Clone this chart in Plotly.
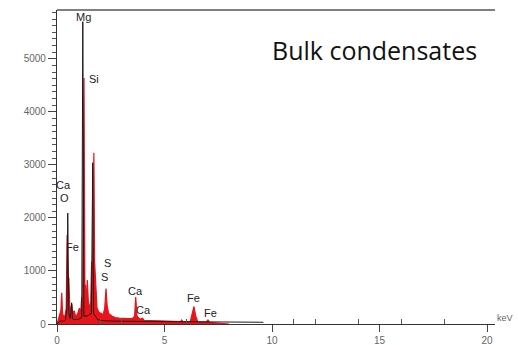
import plotly.graph_objects as go

# ---- data ----
red_kev = [0.00, 0.05, 0.12, 0.18, 0.22, 0.26, 0.32, 0.38, 0.43, 0.47, 0.51, 0.55, 0.60,
           0.65, 0.69, 0.73, 0.80, 0.86, 0.95, 1.04, 1.10, 1.15, 1.19, 1.235, 1.255, 1.30,
           1.33, 1.37, 1.41, 1.46, 1.52, 1.57, 1.61, 1.66, 1.70, 1.715, 1.75, 1.80, 1.86,
           1.95, 2.05, 2.15, 2.22, 2.28, 2.33, 2.40, 2.55, 2.70, 2.90, 3.10, 3.30, 3.50,
           3.61, 3.66, 3.72, 3.85, 3.98, 4.05, 4.50, 5.00, 5.50, 5.75, 5.80, 5.86, 6.20,
           6.30, 6.37, 6.45, 6.55, 6.95, 7.02, 7.10, 7.60, 8.00]
red_cts = [0, 60, 150, 250, 590, 200, 130, 170, 300, 1680, 600, 870, 250,
           300, 380, 200, 250, 150, 180, 300, 200, 510, 300, 4640, 4640, 400,
           740, 300, 830, 400, 300, 450, 1170, 1150, 3230, 3230, 1170, 600, 300,
           220, 200, 180, 300, 670, 350, 200, 150, 120, 110, 100, 100, 100,
           150, 510, 150, 90, 110, 70, 60, 50, 40, 45, 75, 40, 50,
           200, 330, 150, 40, 40, 75, 30, 15, 0]

blk_kev = [0.00, 0.10, 0.20, 0.30, 0.40, 0.46, 0.50, 0.55, 0.62, 0.68, 0.72, 0.80,
           1.00, 1.15, 1.20, 1.25, 1.40, 1.60, 1.66, 1.70, 1.90, 2.20, 2.60, 3.00,
           4.00, 5.00, 6.00, 7.00, 8.00, 9.00, 9.60]
blk_cts = [0, 40, 60, 50, 80, 300, 2090, 200, 100, 400, 100, 80,
           90, 120, 5700, 150, 150, 200, 3040, 200, 80, 60, 55, 50,
           48, 45, 42, 40, 38, 35, 33]

peak_labels = ["Mg", "Si", "Ca", "O", "Fe", "S", "S", "Ca", "Ca", "Fe", "Fe"]
label_kev = [1.21, 1.70, 0.29, 0.37, 0.70, 2.37, 2.23, 3.67, 4.00, 6.37, 7.12]
label_cts = [5790, 4620, 2620, 2375, 1452, 1150, 886, 622, 264, 490, 207]

y_ticks = [0, 1000, 2000, 3000, 4000, 5000]
x_ticks = [0, 5, 10, 15, 20]
x_minor = [2, 3, 6, 11, 12, 14, 16, 18]

X_MAX = 20.37
Y_MAX = 5920

fig = go.Figure()
fig.add_trace(go.Scatter(x=red_kev, y=red_cts, mode="lines", fill="tozeroy",
                         line=dict(color="#e8141b", width=1.2),
                         fillcolor="#e8141b", hoverinfo="skip"))
fig.add_trace(go.Scatter(x=blk_kev, y=blk_cts, mode="lines",
                         line=dict(color="#1a1a1a", width=1), hoverinfo="skip"))

for t, xv, yv in zip(peak_labels, label_kev, label_cts):
    fig.add_annotation(x=xv, y=yv, text=t, showarrow=False, xref="x", yref="y",
                       xanchor="center", yanchor="middle",
                       font=dict(family="Liberation Sans, Arial", size=11, color="#222"))

fig.add_annotation(x=1.023, y=0.02, xref="paper", yref="paper", text="keV",
                   showarrow=False, xanchor="center", yanchor="middle",
                   font=dict(family="Liberation Sans, Arial", size=9, color="#666"))

fig.add_annotation(x=0.725, y=0.873, xref="paper", yref="paper", text="Bulk condensates",
                   showarrow=False, xanchor="center", yanchor="middle",
                   font=dict(family="Open Sans", size=25, color="#111"))

fig.add_shape(type="line", xref="x", yref="paper", x0=0, x1=X_MAX, y0=1, y1=1,
              line=dict(color="#555", width=1.5))

axis_font = dict(family="Liberation Sans, Arial", size=10, color="#666")
fig.update_xaxes(range=[0, X_MAX], tickvals=x_ticks, ticktext=[str(v) for v in x_ticks],
                 ticks="outside", ticklen=7, tickcolor="#444", showgrid=False,
                 zeroline=False, showline=True, linecolor="#333", linewidth=1.2,
                 tickfont=axis_font, automargin=False,
                 minor=dict(tickvals=x_minor, ticks="inside", ticklen=5, tickcolor="#555"))
fig.update_yaxes(range=[0, Y_MAX], tickvals=y_ticks, ticktext=[str(v) for v in y_ticks],
                 ticks="outside", ticklen=8, tickcolor="#444", showgrid=False,
                 zeroline=False, showline=True, linecolor="#333", linewidth=1.2,
                 tickfont=axis_font, automargin=False,
                 minor=dict(dtick=125, ticks="outside", ticklen=4, tickcolor="#555"))

fig.update_layout(width=518, height=345, margin=dict(l=57, r=23, t=10, b=21),
                  paper_bgcolor="white", plot_bgcolor="white", showlegend=False)

fig.write_html("out.html")
